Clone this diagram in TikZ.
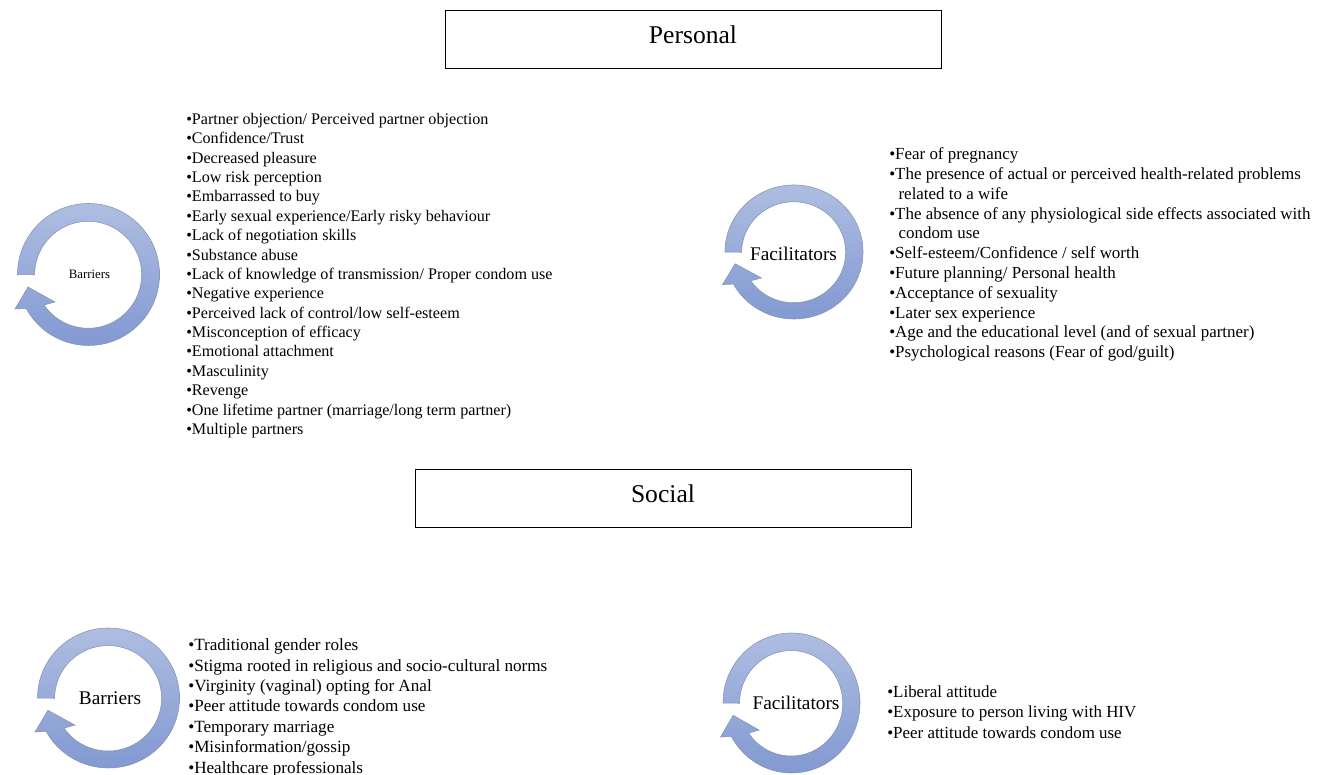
\documentclass[tikz,border=0pt]{standalone}
\usepackage{fontspec}
\setmainfont{Liberation Serif}
\definecolor{arrowtop}{HTML}{AEBDE1}
\definecolor{arrowbot}{HTML}{8299D2}
\definecolor{arrowline}{HTML}{8493AE}
\tikzset{
  headbox/.style={draw=black,line width=0.75pt,minimum width=372pt,minimum height=43.5pt,inner sep=0pt,font=\fontsize{19.2}{22}\selectfont},
  bulletlist/.style 2 args={anchor=north west,align=left,inner sep=0pt,font=\fontsize{#1}{#2}\selectfont},
  cyclearrow/.style={top color=arrowtop,bottom color=arrowbot,draw=arrowline,line width=0.4pt},
  cyclelabel/.style={inner sep=0pt}
}
\newcommand{\cyclearrowat}[3]{% x y, xscale, yscale
  \begin{scope}[shift={(#1)},xscale=#2,yscale=#3]
    \draw[cyclearrow] (-71,0) arc[start angle=180,end angle=-151.4,radius=71]
      -- (-73.5,-34.5) -- (-60.5,-12.5) -- (-33.5,-27.5) -- (-44.5,-30.5)
      arc[start angle=-145.6,end angle=180,radius=53.5] -- cycle;
  \end{scope}}
\begin{document}
\begin{tikzpicture}[x=0.75pt,y=0.75pt]
\useasboundingbox (0,0) rectangle (1322,775);
\fill[white] (0,0) rectangle (1322,775);
\node[headbox] (personal) at (693,735) {\raisebox{8.5pt}{Personal}};
\node[headbox] (social) at (663,276) {\raisebox{8.5pt}{Social}};

\cyclearrowat{88.5,500.5}{1}{1}
\node[cyclelabel,font=\fontsize{9.6}{11}\selectfont] (barriers1) at (89.5,500.5) {Barriers};
\cyclearrowat{794,523}{0.972}{0.944}
\node[cyclelabel,font=\fontsize{14.5}{16}\selectfont] (facil1) at (793.5,521) {Facilitators};
\cyclearrowat{108.5,77}{1}{0.986}
\node[cyclelabel,font=\fontsize{14.5}{16}\selectfont] (barriers2) at (110,77) {Barriers};
\cyclearrowat{791.5,72}{0.965}{0.986}
\node[cyclelabel,font=\fontsize{14.5}{16}\selectfont] (facil2) at (796,72) {Facilitators};

\node[bulletlist={12.1}{14.53pt}] (personalbarriers) at (186,662) {%
•Partner objection/ Perceived partner objection\\
•Confidence/Trust\\
•Decreased pleasure\\
•Low risk perception\\
•Embarrassed to buy\\
•Early sexual experience/Early risky behaviour\\
•Lack of negotiation skills\\
•Substance abuse\\
•Lack of knowledge of transmission/ Proper condom use\\
•Negative experience\\
•Perceived lack of control/low self-esteem\\
•Misconception of efficacy\\
•Emotional attachment\\
•Masculinity\\
•Revenge\\
•One lifetime partner (marriage/long term partner)\\
•Multiple partners};

\node[bulletlist={12.7}{14.85pt}] (personalfacil) at (889,627.5) {%
•Fear of pregnancy\\
•The presence of actual or perceived health-related problems\\
\hspace*{7pt}related to a wife\\
•The absence of any physiological side effects associated with\\
\hspace*{7pt}condom use\\
•Self-esteem/Confidence / self worth\\
•Future planning/ Personal health\\
•Acceptance of sexuality\\
•Later sex experience\\
•Age and the educational level (and of sexual partner)\\
•Psychological reasons (Fear of god/guilt)};

\node[bulletlist={12.85}{15.3pt}] (socialbarriers) at (188,136.5) {%
•Traditional gender roles\\
•Stigma rooted in religious and socio-cultural norms\\
•Virginity (vaginal) opting for Anal\\
•Peer attitude towards condom use\\
•Temporary marriage\\
•Misinformation/gossip\\
•Healthcare professionals};

\node[bulletlist={12.7}{15.7pt}] (socialfacil) at (887,90) {%
•Liberal attitude\\
•Exposure to person living with HIV\\
•Peer attitude towards condom use};
\end{tikzpicture}
\end{document}
